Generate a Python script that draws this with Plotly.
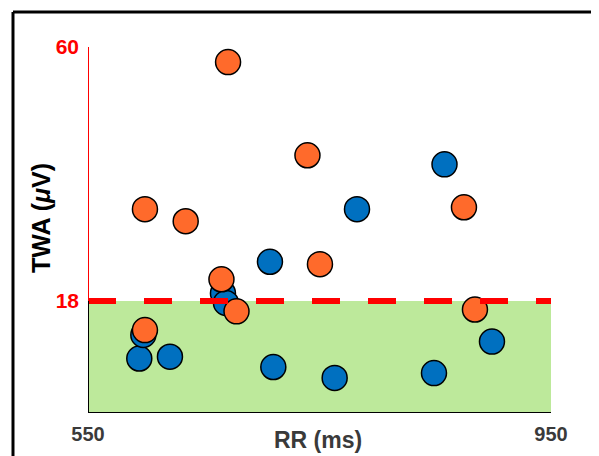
import plotly.graph_objects as go

# Data
orange_rr = [671.0, 739.6, 599.2, 634.4, 665.3, 750.4, 874.8, 884.3, 678.3, 599.2]
orange_twa = [57.5, 42.1, 33.2, 31.2, 21.6, 24.1, 33.5, 16.6, 16.3, 13.2]

blue_rr = [858.0, 782.4, 707.2, 899.0, 710.1, 763.1, 848.9, 594.3, 620.8, 597.8, 666.6, 669.2]
blue_twa = [40.6, 33.2, 24.5, 11.3, 7.1, 5.3, 6.1, 8.5, 8.8, 12.4, 19.3, 17.7]

threshold = 18
x_range = [550, 950]
y_range = [-0.5, 60]
x_ticks = [550, 950]
y_ticks = [18, 60]

FONT = "Liberation Sans, Arial, sans-serif"
TXT = "#3a3a3a"

fig = go.Figure()

fig.add_trace(go.Scatter(
    x=blue_rr, y=blue_twa, mode="markers",
    marker=dict(size=25, color="#0070C0", line=dict(color="black", width=1.5)),
    cliponaxis=False, showlegend=False, hoverinfo="skip"))

fig.add_trace(go.Scatter(
    x=orange_rr, y=orange_twa, mode="markers",
    marker=dict(size=25, color="#FF6A2B", line=dict(color="black", width=1.5)),
    cliponaxis=False, showlegend=False, hoverinfo="skip"))

fig.add_trace(go.Scatter(
    x=x_range, y=[threshold, threshold], mode="lines",
    line=dict(color="#FF0000", width=6, dash="28px,28px"),
    showlegend=False, hoverinfo="skip"))

shapes = [
    # green normal zone
    dict(type="rect", xref="x", yref="y", x0=x_range[0], x1=x_range[1],
         y0=y_range[0], y1=threshold, fillcolor="#BDE99B", line=dict(width=0), layer="below"),
    # y axis: red above threshold, black below
    dict(type="line", xref="x", yref="y", x0=x_range[0], x1=x_range[0],
         y0=threshold, y1=y_range[1], line=dict(color="#FF0000", width=2)),
    dict(type="line", xref="x", yref="y", x0=x_range[0], x1=x_range[0],
         y0=y_range[0], y1=threshold, line=dict(color="black", width=2)),
    # x axis
    dict(type="line", xref="x", yref="y", x0=x_range[0], x1=x_range[1],
         y0=y_range[0], y1=y_range[0], line=dict(color="black", width=2)),
    # outer frame (top and left)
    dict(type="line", xref="paper", yref="paper", x0=-0.162, x1=1.3,
         y0=1.0956, y1=1.0956, line=dict(color="black", width=3)),
    dict(type="line", xref="paper", yref="paper", x0=-0.162, x1=-0.162,
         y0=1.0956, y1=-0.3, line=dict(color="black", width=3)),
]

fig.update_layout(
    width=591, height=448,
    margin=dict(l=80, r=48, t=39, b=43),
    paper_bgcolor="white", plot_bgcolor="white",
    shapes=shapes,
    xaxis=dict(range=x_range, tickvals=x_ticks, ticktext=[f"<b>{v}</b>" for v in x_ticks],
               showgrid=False, zeroline=False, showline=False, ticks="",
               tickfont=dict(family=FONT, size=20, color=TXT),
               ticklabelstandoff=7),
    yaxis=dict(range=y_range, tickvals=y_ticks, ticktext=[f"<b>{v}</b>" for v in y_ticks],
               showgrid=False, zeroline=False, showline=False,
               ticks="inside", ticklen=5, tickwidth=2, tickcolor="#FF0000",
               tickfont=dict(family=FONT, size=21, color="#FF0000"),
               ticklabelstandoff=8),
    annotations=[
        dict(text="<b>RR (ms)</b>", xref="paper", yref="paper", x=0.497, y=-0.074,
             xanchor="center", yanchor="middle", showarrow=False,
             font=dict(family=FONT, size=23, color=TXT)),
        dict(text="<b>TWA (<i>μ</i>V)</b>", xref="paper", yref="paper", x=-0.1015, y=0.533,
             xanchor="center", yanchor="middle", showarrow=False, textangle=-90,
             font=dict(family=FONT, size=25, color="black")),
    ],
)

fig.write_html("out.html")
